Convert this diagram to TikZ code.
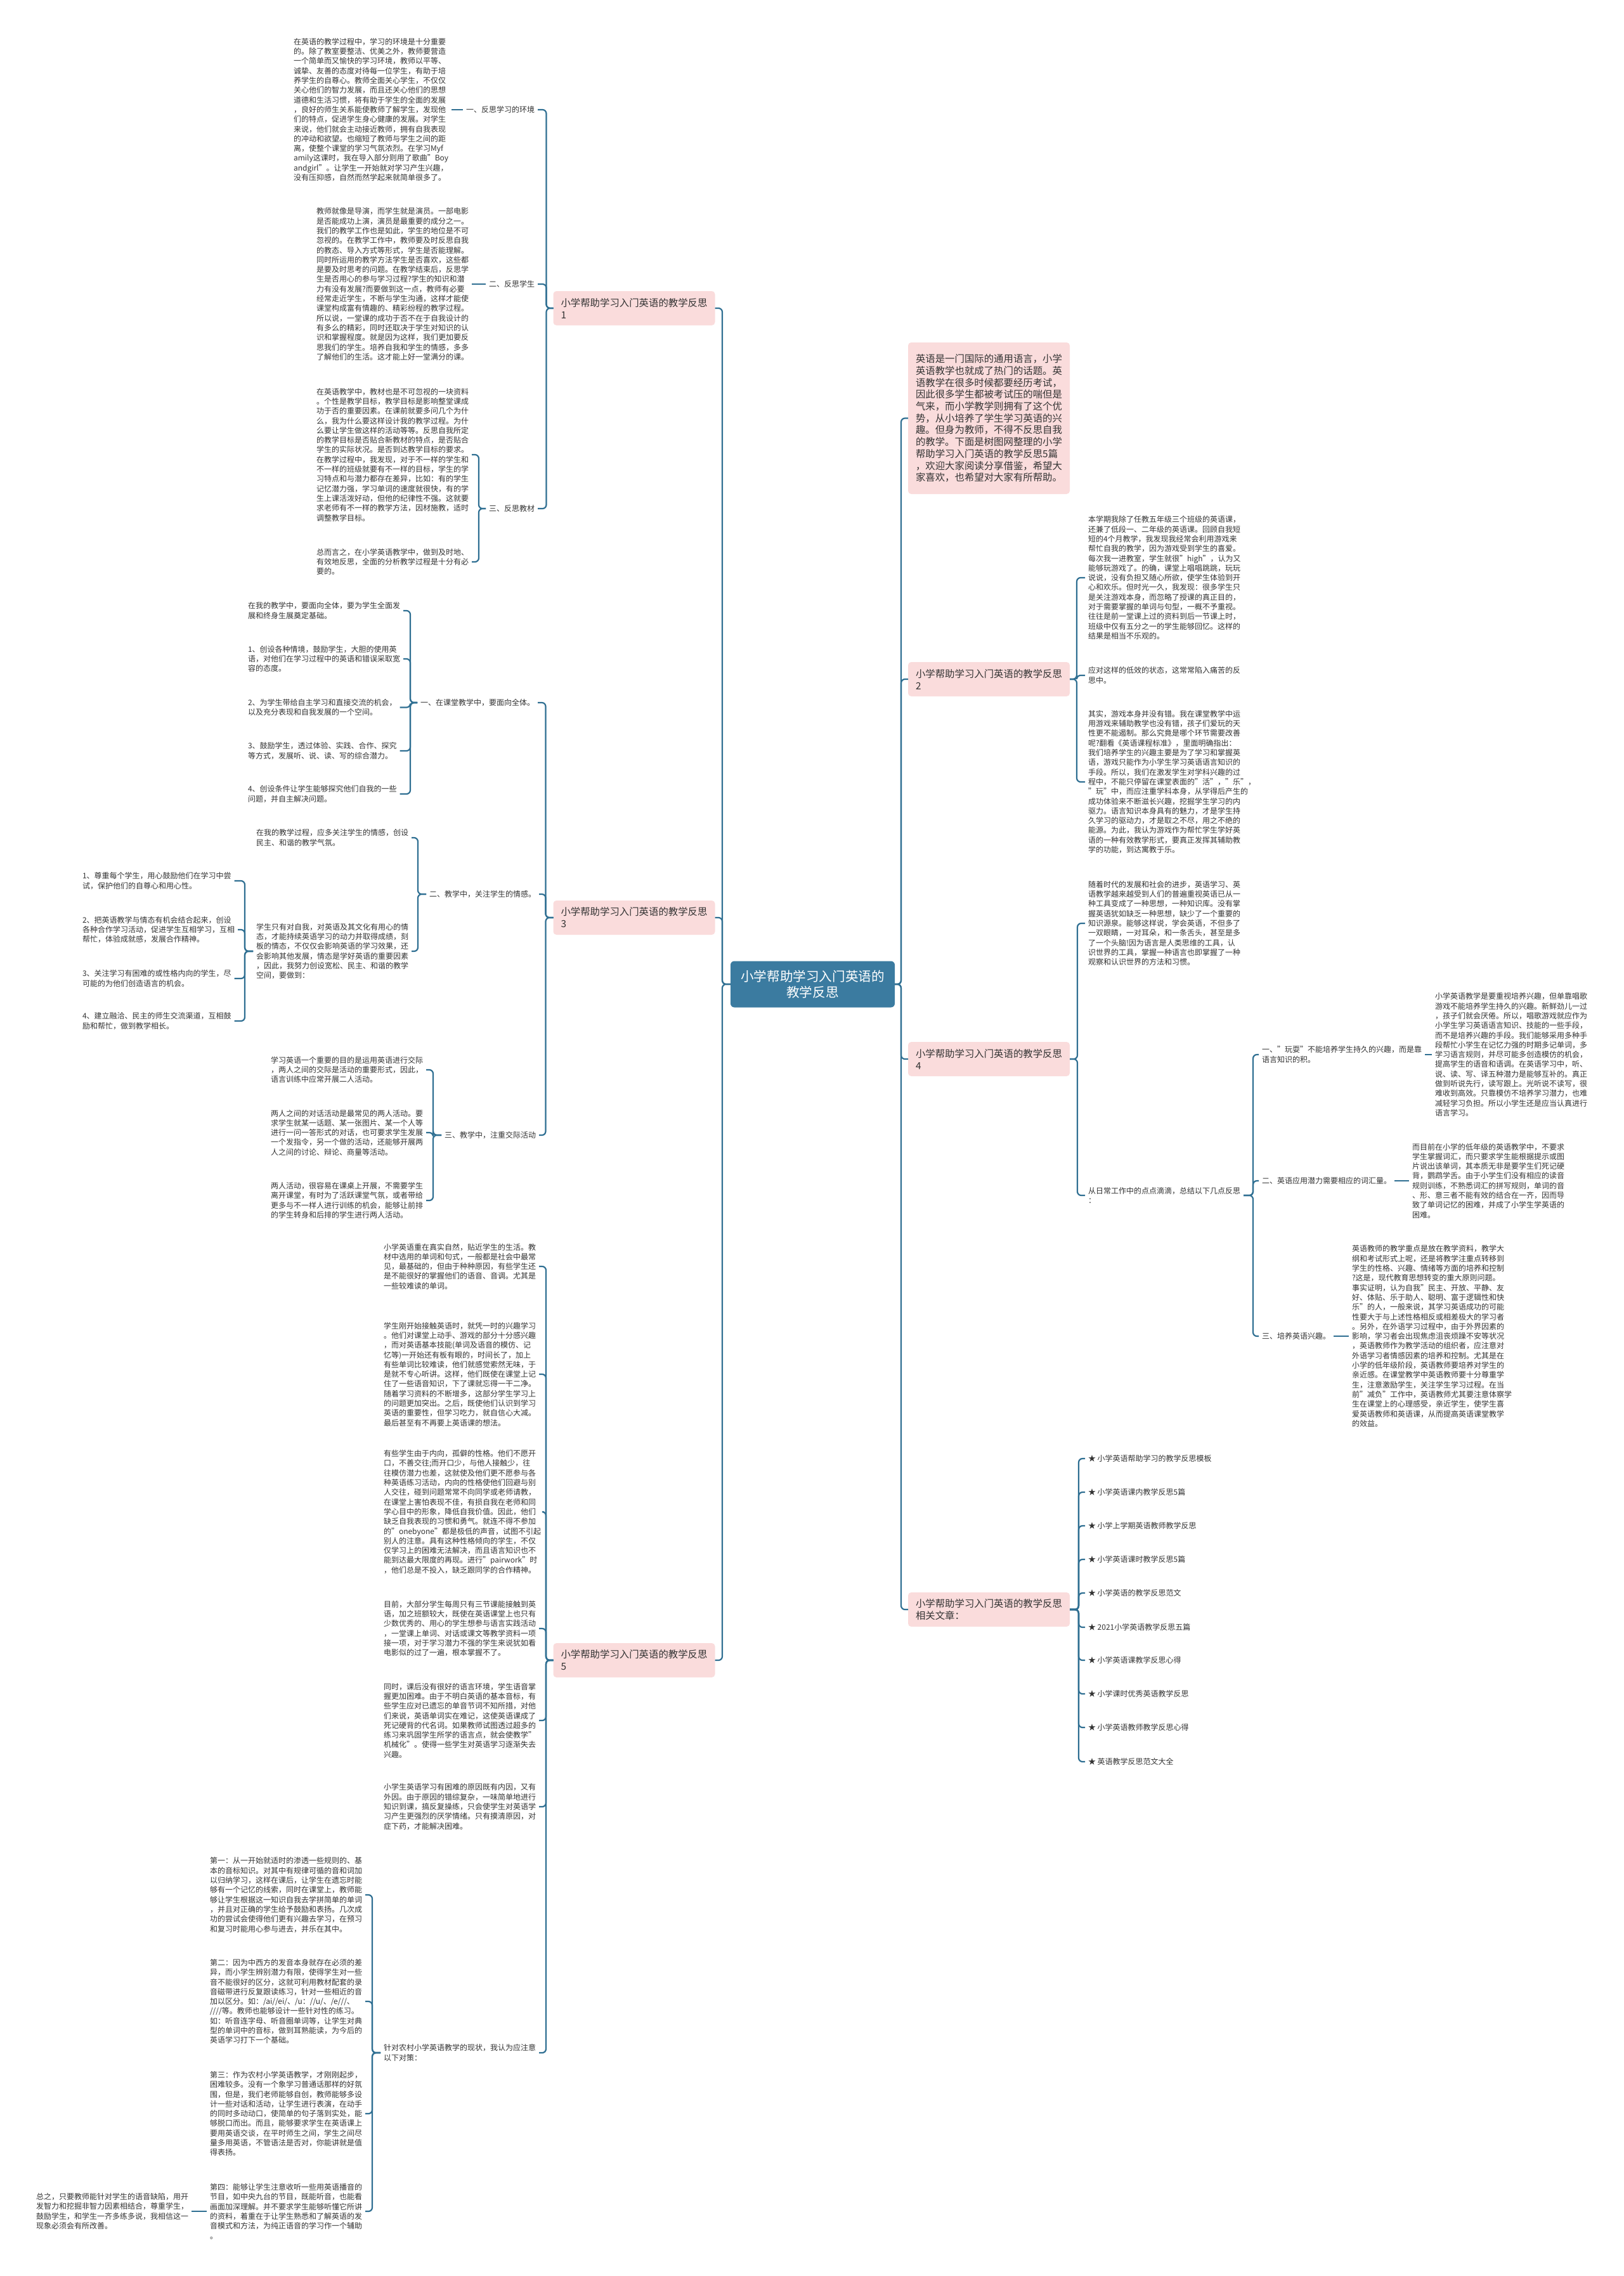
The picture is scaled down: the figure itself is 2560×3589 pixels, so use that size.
\documentclass[tikz,border=0pt]{standalone}
\usepackage{fontspec}
\setmainfont{Noto Sans CJK SC}
\definecolor{linec}{HTML}{2F6F92}
\definecolor{pinkc}{HTML}{FADCDC}
\definecolor{hubc}{HTML}{3B7BA0}
\definecolor{txt}{HTML}{333333}
\tikzset{
 conn/.style={draw=linec, line width=2.2pt, rounded corners=6pt},
 leaf/.style={inner sep=0pt, outer sep=5pt, align=left, text=txt, font=\fontsize{12}{15.3}\selectfont},
 branchnode/.style={fill=pinkc, rounded corners=5pt, inner sep=0pt, outer sep=0pt, minimum width=255pt, minimum height=54pt, align=left, text=txt, font=\fontsize{15.4}{19}\selectfont},
 hubnode/.style={fill=hubc, rounded corners=6pt, inner sep=0pt, outer sep=0pt, minimum width=259pt, minimum height=73pt, align=center, text=white, font=\fontsize{20.6}{25}\selectfont}
}
\begin{document}
\begin{tikzpicture}[x=1pt,y=-1pt]
\fill[white] (0,0) rectangle (2560,3589);
\useasboundingbox (0,0) rectangle (2560,3589);

% center
\node[hubnode] (C) at (1281.5,1552) {小学帮助学习入门英语的\\教学反思};

% ---------- Branch 1 ----------
\node[branchnode] (B1) at (1000,486) {小学帮助学习入门英语的教学反思\\1};
\node[leaf,anchor=east] (L1a) at (848,173) {一、反思学习的环境};
\node[leaf,anchor=east] (L1b) at (848,448) {二、反思学生};
\node[leaf,anchor=east] (L1c) at (848,802) {三、反思教材};
\node[leaf,anchor=west] (T1a) at (458,173) {在英语的教学过程中，学习的环境是十分重要\\的。除了教室要整洁、优美之外，教师要营造\\一个简单而又愉快的学习环境，教师以平等、\\诚挚、友善的态度对待每一位学生，有助于培\\养学生的自尊心。教师全面关心学生，不仅仅\\关心他们的智力发展，而且还关心他们的思想\\道德和生活习惯，将有助于学生的全面的发展\\，良好的师生关系能使教师了解学生，发现他\\们的特点，促进学生身心健康的发展。对学生\\来说，他们就会主动接近教师，拥有自我表现\\的冲动和欲望。也缩短了教师与学生之间的距\\离，使整个课堂的学习气氛浓烈。在学习Myf\\amily这课时，我在导入部分则用了歌曲"Boy\\andgirl"。让学生一开始就对学习产生兴趣，\\没有压抑感，自然而然学起来就简单很多了。};
\node[leaf,anchor=west] (T1b) at (494,448) {教师就像是导演，而学生就是演员。一部电影\\是否能成功上演，演员是最重要的成分之一。\\我们的教学工作也是如此，学生的地位是不可\\忽视的。在教学工作中，教师要及时反思自我\\的教态、导入方式等形式，学生是否能理解。\\同时所运用的教学方法学生是否喜欢，这些都\\是要及时思考的问题。在教学结束后，反思学\\生是否用心的参与学习过程?学生的知识和潜\\力有没有发展?而要做到这一点，教师有必要\\经常走近学生，不断与学生沟通，这样才能使\\课堂构成富有情趣的、精彩纷程的教学过程。\\所以说，一堂课的成功于否不在于自我设计的\\有多么的精彩，同时还取决于学生对知识的认\\识和掌握程度。就是因为这样，我们更加要反\\思我们的学生。培养自我和学生的情感，多多\\了解他们的生活。这才能上好一堂满分的课。};
\node[leaf,anchor=west] (T1c) at (494,717) {在英语教学中，教材也是不可忽视的一块资料\\。个性是教学目标，教学目标是影响整堂课成\\功于否的重要因素。在课前就要多问几个为什\\么，我为什么要这样设计我的教学过程。为什\\么要让学生做这样的活动等等。反思自我所定\\的教学目标是否贴合新教材的特点，是否贴合\\学生的实际状况。是否到达教学目标的要求。\\在教学过程中，我发现，对于不一样的学生和\\不一样的班级就要有不一样的目标，学生的学\\习特点和与潜力都存在差异，比如：有的学生\\记忆潜力强，学习单词的速度就很快，有的学\\生上课活泼好动，但他的纪律性不强。这就要\\求老师有不一样的教学方法，因材施教，适时\\调整教学目标。};
\node[leaf,anchor=west] (T1d) at (494,886) {总而言之，在小学英语教学中，做到及时地、\\有效地反思，全面的分析教学过程是十分有必\\要的。};
\draw[conn] (B1.west) -- ++(-11,0) |- (L1a.east);
\draw[conn] (B1.west) -- ++(-11,0) |- (L1b.east);
\draw[conn] (B1.west) -- ++(-11,0) |- (L1c.east);
\draw[conn] (L1a.west) -- (T1a.east);
\draw[conn] (L1b.west) -- (T1b.east);
\draw[conn] (L1c.west) -- ++(-11,0) |- (T1c.east);
\draw[conn] (L1c.west) -- ++(-11,0) |- (T1d.east);

% ---------- Branch 3 ----------
\node[branchnode] (B3) at (1000,1447) {小学帮助学习入门英语的教学反思\\3};
\node[leaf,anchor=east] (L3a) at (848,1108) {一、在课堂教学中，要面向全体。};
\node[leaf,anchor=east] (L3b) at (850,1410) {二、教学中，关注学生的情感。};
\node[leaf,anchor=east] (L3c) at (850,1790) {三、教学中，注重交际活动};
\node[leaf,anchor=west] (T3a) at (386,963) {在我的教学中，要面向全体，要为学生全面发\\展和终身生展奠定基础。};
\node[leaf,anchor=west] (T3b) at (386,1039) {1、创设各种情境，鼓励学生，大胆的使用英\\语，对他们在学习过程中的英语和错误采取宽\\容的态度。};
\node[leaf,anchor=west] (T3c) at (386,1115.5) {2、为学生带给自主学习和直接交流的机会，\\以及充分表现和自我发展的一个空间。};
\node[leaf,anchor=west] (T3d) at (386,1184) {3、鼓励学生，透过体验、实践、合作、探究\\等方式，发展听、说、读、写的综合潜力。};
\node[leaf,anchor=west] (T3e) at (386,1252) {4、创设条件让学生能够探究他们自我的一些\\问题，并自主解决问题。};
\node[leaf,anchor=west] (T3f) at (399,1321) {在我的教学过程，应多关注学生的情感，创设\\民主、和谐的教学气氛。};
\node[leaf,anchor=west] (T3g) at (399,1500) {学生只有对自我，对英语及其文化有用心的情\\态，才能持续英语学习的动力并取得成绩，刻\\板的情态，不仅仅会影响英语的学习效果，还\\会影响其他发展，情态是学好英语的重要因素\\，因此，我努力创设宽松、民主、和谐的教学\\空间，要做到：};
\node[leaf,anchor=west] (T3h) at (125,1389) {1、尊重每个学生，用心鼓励他们在学习中尝\\试，保护他们的自尊心和用心性。};
\node[leaf,anchor=west] (T3i) at (125,1466) {2、把英语教学与情态有机会结合起来，创设\\各种合作学习活动，促进学生互相学习，互相\\帮忙，体验成就感，发展合作精神。};
\node[leaf,anchor=west] (T3j) at (125,1543) {3、关注学习有困难的或性格内向的学生，尽\\可能的为他们创造语言的机会。};
\node[leaf,anchor=west] (T3k) at (125,1610) {4、建立融洽、民主的师生交流渠道，互相鼓\\励和帮忙，做到教学相长。};
\node[leaf,anchor=west] (T3l) at (422,1687) {学习英语一个重要的目的是运用英语进行交际\\，两人之间的交际是活动的重要形式，因此，\\语言训练中应常开展二人活动。};
\node[leaf,anchor=west] (T3m) at (422,1786) {两人之间的对话活动是最常见的两人活动。要\\求学生就某一话题、某一张图片、某一个人等\\进行一问一答形式的对话，也可要求学生发展\\一个发指令，另一个做的活动，还能够开展两\\人之间的讨论、辩论、商量等活动。};
\node[leaf,anchor=west] (T3n) at (422,1893) {两人活动，很容易在课桌上开展，不需要学生\\离开课堂，有时为了活跃课堂气氛，或者带给\\更多与不一样人进行训练的机会，能够让前排\\的学生转身和后排的学生进行两人活动。};
\draw[conn] (B3.west) -- ++(-12,0) |- (L3a.east);
\draw[conn] (B3.west) -- ++(-12,0) |- (L3b.east);
\draw[conn] (B3.west) -- ++(-12,0) |- (L3c.east);
\foreach \t in {T3a,T3b,T3c,T3d,T3e} \draw[conn] (L3a.west) -- ++(-11,0) |- (\t.east);
\foreach \t in {T3f,T3g} \draw[conn] (L3b.west) -- ++(-13,0) |- (\t.east);
\foreach \t in {T3h,T3i,T3j,T3k} \draw[conn] (T3g.west) -- ++(-13,0) |- (\t.east);
\foreach \t in {T3l,T3m,T3n} \draw[conn] (L3c.west) -- ++(-13,0) |- (\t.east);

% ---------- Branch 5 ----------
\node[branchnode] (B5) at (1000,2618) {小学帮助学习入门英语的教学反思\\5};
\node[leaf,anchor=west] (T5a) at (600,1997) {小学英语重在真实自然，贴近学生的生活。教\\材中选用的单词和句式，一般都是社会中最常\\见，最基础的，但由于种种原因，有些学生还\\是不能很好的掌握他们的语音、音调。尤其是\\一些较难读的单词。};
\node[leaf,anchor=west] (T5b) at (600,2167) {学生刚开始接触英语时，就凭一时的兴趣学习\\。他们对课堂上动手、游戏的部分十分感兴趣\\，而对英语基本技能(单词及语音的模仿、记\\忆等)一开始还有板有眼的，时间长了，加上\\有些单词比较难读，他们就感觉索然无味，于\\是就不专心听讲。这样，他们既使在课堂上记\\住了一些语音知识，下了课就忘得一干二净。\\随着学习资料的不断增多，这部分学生学习上\\的问题更加突出。之后，既使他们认识到学习\\英语的重要性，但学习吃力，就自信心大减。\\最后甚至有不再要上英语课的想法。};
\node[leaf,anchor=west] (T5c) at (600,2384) {有些学生由于内向，孤僻的性格。他们不愿开\\口，不善交往;而开口少，与他人接触少，往\\往模仿潜力也差，这就使及他们更不愿参与各\\种英语练习活动，内向的性格使他们回避与别\\人交往，碰到问题常常不向同学或老师请教，\\在课堂上害怕表现不佳，有损自我在老师和同\\学心目中的形象，降低自我价值。因此，他们\\缺乏自我表现的习惯和勇气。就连不得不参加\\的"onebyone"都是极低的声音，试图不引起\\别人的注意。具有这种性格倾向的学生，不仅\\仅学习上的困难无法解决，而且语言知识也不\\能到达最大限度的再现。进行"pairwork"时\\，他们总是不投入，缺乏跟同学的合作精神。};
\node[leaf,anchor=west] (T5d) at (600,2568) {目前，大部分学生每周只有三节课能接触到英\\语，加之班额较大，既使在英语课堂上也只有\\少数优秀的、用心的学生想参与语言实践活动\\，一堂课上单词、对话或课文等教学资料一项\\接一项，对于学习潜力不强的学生来说犹如看\\电影似的过了一遍，根本掌握不了。};
\node[leaf,anchor=west] (T5e) at (600,2713) {同时，课后没有很好的语言环境，学生语音掌\\握更加困难。由于不明白英语的基本音标，有\\些学生应对已遗忘的单音节词不知所措，对他\\们来说，英语单词实在难记，这使英语课成了\\死记硬背的代名词。如果教师试图透过超多的\\练习来巩固学生所学的语言点，就会使教学"\\机械化"。使得一些学生对英语学习逐渐失去\\兴趣。};
\node[leaf,anchor=west] (T5f) at (600,2849) {小学生英语学习有困难的原因既有内因，又有\\外因。由于原因的错综复杂，一味简单地进行\\知识到课，搞反复操练，只会使学生对英语学\\习产生更强烈的厌学情绪。只有摸清原因，对\\症下药，才能解决困难。};
\node[leaf,anchor=west] (L5) at (600,3237) {针对农村小学英语教学的现状，我认为应注意\\以下对策：};
\node[leaf,anchor=west] (T5g) at (326,2988) {第一：从一开始就适时的渗透一些规则的、基\\本的音标知识。对其中有规律可循的音和词加\\以归纳学习，这样在课后，让学生在遗忘时能\\够有一个记忆的线索，同时在课堂上，教师能\\够让学生根据这一知识自我去学拼简单的单词\\，并且对正确的学生给予鼓励和表扬。几次成\\功的尝试会使得他们更有兴趣去学习，在预习\\和复习时能用心参与进去，并乐在其中。};
\node[leaf,anchor=west] (T5h) at (326,3156) {第二：因为中西方的发音本身就存在必须的差\\异，而小学生辨别潜力有限，使得学生对一些\\音不能很好的区分，这就可利用教材配套的录\\音磁带进行反复跟读练习，针对一些相近的音\\加以区分。如：/ai//ei/、/u：//u/、/e///、\\////等。教师也能够设计一些针对性的练习。\\如：听音连字母、听音圈单词等，让学生对典\\型的单词中的音标，做到耳熟能读，为今后的\\英语学习打下一个基础。};
\node[leaf,anchor=west] (T5i) at (326,3333) {第三：作为农村小学英语教学，才刚刚起步，\\困难较多。没有一个象学习普通话那样的好氛\\围，但是，我们老师能够自创，教师能够多设\\计一些对话和活动，让学生进行表演，在动手\\的同时多动动口，使简单的句子落到实处，能\\够脱口而出。而且，能够要求学生在英语课上\\要用英语交谈，在平时师生之间，学生之间尽\\量多用英语，不管语法是否对，你能讲就是值\\得表扬。};
\node[leaf,anchor=west] (T5j) at (326,3487) {第四：能够让学生注意收听一些用英语播音的\\节目，如中央九台的节目，既能听音，也能看\\画面加深理解。并不要求学生能够听懂它所讲\\的资料，着重在于让学生熟悉和了解英语的发\\音模式和方法，为纯正语音的学习作一个辅助\\。};
\node[leaf,anchor=west] (T5k) at (52,3487) {总之，只要教师能针对学生的语音缺陷，用开\\发智力和挖掘非智力因素相结合，尊重学生，\\鼓励学生，和学生一齐多练多说，我相信这一\\现象必须会有所改善。};
\foreach \t in {T5a,T5b,T5c,T5d,T5e,T5f,L5} \draw[conn] (B5.west) -- ++(-11.5,0) |- (\t.east);
\foreach \t in {T5g,T5h,T5i,T5j} \draw[conn] (L5.west) -- ++(-13,0) |- (\t.east);
\draw[conn] (T5j.west) -- (T5k.east);

% ---------- center to left ----------
\foreach \b in {B1,B3,B5} \draw[conn] (C.west) -- ++(-13,0) |- (\b.east);

% ---------- Right side ----------
\node[branchnode, minimum height=239pt, font=\fontsize{15.4}{18.7}\selectfont] (I) at (1559.5,659.5) {英语是一门国际的通用语言，小学\\英语教学也就成了热门的话题。英\\语教学在很多时候都要经历考试，\\因此很多学生都被考试压的喘但是\\气来，而小学教学则拥有了这个优\\势，从小培养了学生学习英语的兴\\趣。但身为教师，不得不反思自我\\的教学。下面是树图网整理的小学\\帮助学习入门英语的教学反思5篇\\，欢迎大家阅读分享借鉴，希望大\\家喜欢，也希望对大家有所帮助。};
\node[branchnode] (B2) at (1559.5,1071) {小学帮助学习入门英语的教学反思\\2};
\node[branchnode] (B4) at (1559.5,1670) {小学帮助学习入门英语的教学反思\\4};
\node[branchnode] (R) at (1559.5,2538) {小学帮助学习入门英语的教学反思\\相关文章：};
\foreach \b in {I,B2,B4,R} \draw[conn] (C.east) -- ++(10,0) |- (\b.west);

\node[leaf,anchor=west] (T2a) at (1711,911) {本学期我除了任教五年级三个班级的英语课，\\还兼了低段一、二年级的英语课。回顾自我短\\短的4个月教学，我发现我经常会利用游戏来\\帮忙自我的教学，因为游戏受到学生的喜爱。\\每次我一进教室，学生就很"high"，认为又\\能够玩游戏了。的确，课堂上唱唱跳跳，玩玩\\说说，没有负担又随心所欲，使学生体验到开\\心和欢乐。但时光一久，我发现：很多学生只\\是关注游戏本身，而忽略了授课的真正目的，\\对于需要掌握的单词与句型，一概不予重视。\\往往是前一堂课上过的资料到后一节课上时，\\班级中仅有五分之一的学生能够回忆。这样的\\结果是相当不乐观的。};
\node[leaf,anchor=west] (T2b) at (1711,1065) {应对这样的低效的状态，这常常陷入痛苦的反\\思中。};
\node[leaf,anchor=west] (T2c) at (1711,1233) {其实，游戏本身并没有错。我在课堂教学中运\\用游戏来辅助教学也没有错，孩子们爱玩的天\\性更不能遏制。那么究竟是哪个环节需要改善\\呢?翻看《英语课程标准》，里面明确指出：\\我们培养学生的兴趣主要是为了学习和掌握英\\语，游戏只能作为小学生学习英语语言知识的\\手段。所以，我们在激发学生对学科兴趣的过\\程中，不能只停留在课堂表面的"活"，"乐"，\\"玩"中，而应注重学科本身，从学得后产生的\\成功体验来不断滋长兴趣，挖掘学生学习的内\\驱力。语言知识本身具有的魅力，才是学生持\\久学习的驱动力，才是取之不尽，用之不绝的\\能源。为此，我认为游戏作为帮忙学生学好英\\语的一种有效教学形式，要真正发挥其辅助教\\学的功能，到达寓教于乐。};
\foreach \t in {T2a,T2b,T2c} \draw[conn] (B2.east) -- ++(11,0) |- (\t.west);

\node[leaf,anchor=west] (T4a) at (1711,1456) {随着时代的发展和社会的进步，英语学习、英\\语教学越来越受到人们的普遍重视英语已从一\\种工具变成了一种思想，一种知识库。没有掌\\握英语犹如缺乏一种思想，缺少了一个重要的\\知识源泉。能够这样说，学会英语，不但多了\\一双眼睛，一对耳朵，和一条舌头，甚至是多\\了一个头脑!因为语言是人类思维的工具，认\\识世界的工具，掌握一种语言也即掌握了一种\\观察和认识世界的方法和习惯。};
\node[leaf,anchor=west] (L4) at (1711,1885) {从日常工作中的点点滴滴，总结以下几点反思\\：};
\foreach \t in {T4a,L4} \draw[conn] (B4.east) -- ++(12,0) |- (\t.west);
\node[leaf,anchor=west] (L4a) at (1985,1663) {一、"玩耍"不能培养学生持久的兴趣，而是靠\\语言知识的积。};
\node[leaf,anchor=west] (L4b) at (1985,1862) {二、英语应用潜力需要相应的词汇量。};
\node[leaf,anchor=west] (L4c) at (1985,2107) {三、培养英语兴趣。};
\foreach \t in {L4a,L4b,L4c} \draw[conn] (L4.east) -- ++(15,0) |- (\t.west);
\node[leaf,anchor=west] (T4b) at (2258,1663) {小学英语教学是要重视培养兴趣，但单靠唱歌\\游戏不能培养学生持久的兴趣。新鲜劲儿一过\\，孩子们就会厌倦。所以，唱歌游戏就应作为\\小学生学习英语语言知识、技能的一些手段，\\而不是培养兴趣的手段。我们能够采用多种手\\段帮忙小学生在记忆力强的时期多记单词，多\\学习语言规则，并尽可能多创造模仿的机会，\\提高学生的语音和语调。在英语学习中，听、\\说、读、写、译五种潜力是能够互补的。真正\\做到听说先行，读写跟上。光听说不读写，很\\难收到高效。只靠模仿不培养学习潜力，也难\\减轻学习负担。所以小学生还是应当认真进行\\语言学习。};
\node[leaf,anchor=west] (T4c) at (2222,1862) {而目前在小学的低年级的英语教学中，不要求\\学生掌握词汇，而只要求学生能根据提示或图\\片说出该单词，其本质无非是要学生们死记硬\\背，鹦鹉学舌。由于小学生们没有相应的读音\\规则训练，不熟悉词汇的拼写规则，单词的音\\、形、意三者不能有效的结合在一齐，因而导\\致了单词记忆的困难，并成了小学生学英语的\\困难。};
\node[leaf,anchor=west] (T4d) at (2127,2107) {英语教师的教学重点是放在教学资料，教学大\\纲和考试形式上呢，还是将教学注重点转移到\\学生的性格、兴趣、情绪等方面的培养和控制\\?这是，现代教育思想转变的重大原则问题。\\事实证明，认为自我"民主、开放、平静、友\\好、体贴、乐于助人、聪明、富于逻辑性和快\\乐"的人，一般来说，其学习英语成功的可能\\性要大于与上述性格相反或相差极大的学习者\\。另外，在外语学习过程中，由于外界因素的\\影响，学习者会出现焦虑沮丧烦躁不安等状况\\，英语教师作为教学活动的组织者，应注意对\\外语学习者情感因素的培养和控制。尤其是在\\小学的低年级阶段，英语教师要培养对学生的\\亲近感。在课堂教学中英语教师要十分尊重学\\生，注意激励学生，关注学生学习过程。在当\\前"减负"工作中，英语教师尤其要注意体察学\\生在课堂上的心理感受，亲近学生，使学生喜\\爱英语教师和英语课，从而提高英语课堂教学\\的效益。};
\draw[conn] (L4a.east) -- (T4b.west);
\draw[conn] (L4b.east) -- (T4c.west);
\draw[conn] (L4c.east) -- (T4d.west);

% related articles
\node[leaf,anchor=west] (R1) at (1711,2300) {★ 小学英语帮助学习的教学反思模板};
\node[leaf,anchor=west] (R2) at (1711,2353) {★ 小学英语课内教学反思5篇};
\node[leaf,anchor=west] (R3) at (1711,2406) {★ 小学上学期英语教师教学反思};
\node[leaf,anchor=west] (R4) at (1711,2459) {★ 小学英语课时教学反思5篇};
\node[leaf,anchor=west] (R5) at (1711,2512) {★ 小学英语的教学反思范文};
\node[leaf,anchor=west] (R6) at (1711,2566) {★ 2021小学英语教学反思五篇};
\node[leaf,anchor=west] (R7) at (1711,2618) {★ 小学英语课教学反思心得};
\node[leaf,anchor=west] (R8) at (1711,2671) {★ 小学课时优秀英语教学反思};
\node[leaf,anchor=west] (R9) at (1711,2724) {★ 小学英语教师教学反思心得};
\node[leaf,anchor=west] (R10) at (1711,2778) {★ 英语教学反思范文大全};
\foreach \t in {R1,R2,R3,R4,R5,R6,R7,R8,R9,R10} \draw[conn] (R.east) -- ++(14,0) |- (\t.west);
\end{tikzpicture}
\end{document}
